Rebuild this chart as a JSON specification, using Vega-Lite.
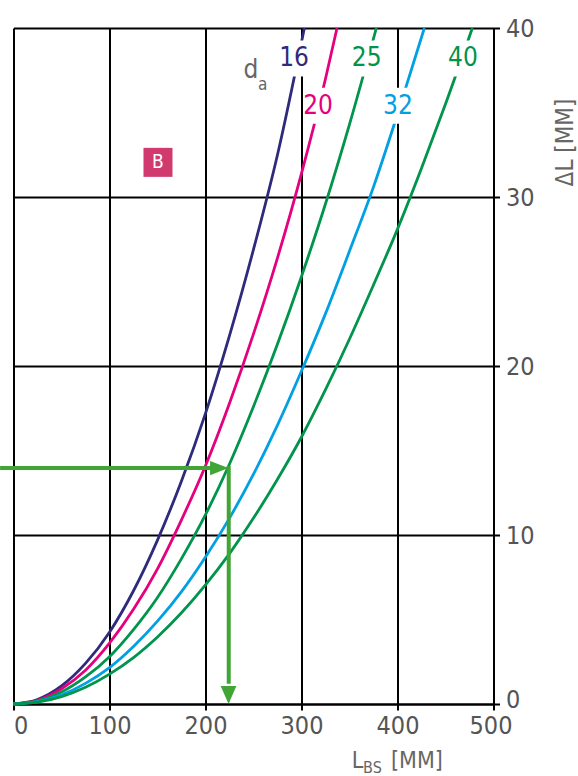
{
  "$schema": "https://vega.github.io/schema/vega-lite/v6.json",
  "autosize": {"type": "none"},
  "width": 480,
  "height": 676,
  "padding": {"left": 13.5, "top": 28, "right": 84.5, "bottom": 72},
  "config": {
    "view": {"stroke": null},
    "font": "Liberation Sans Narrow, DejaVu Sans Condensed, Roboto, sans-serif",
    "axis": {
      "grid": true, "gridColor": "#000000", "gridWidth": 2, "gridOpacity": 1,
      "domainColor": "#000000", "domainWidth": 2,
      "tickColor": "#000000", "tickWidth": 2, "tickSize": 6,
      "labelColor": "#555555", "labelFontSize": 25,
      "titleColor": "#666666", "titleFontWeight": "normal"
    }
  },
  "datasets": {
    "curves": [
      {"d": "16", "L": 0, "dL": 0}, {"d": "16", "L": 25, "dL": 0.27}, {"d": "16", "L": 50, "dL": 1.07}, {"d": "16", "L": 75, "dL": 2.4}, {"d": "16", "L": 100, "dL": 4.25}, {"d": "16", "L": 125, "dL": 6.7}, {"d": "16", "L": 150, "dL": 9.7}, {"d": "16", "L": 175, "dL": 13.2}, {"d": "16", "L": 200, "dL": 17.2}, {"d": "16", "L": 225, "dL": 21.8}, {"d": "16", "L": 250, "dL": 26.9}, {"d": "16", "L": 275, "dL": 32.5}, {"d": "16", "L": 303, "dL": 40},
      {"d": "20", "L": 0, "dL": 0}, {"d": "20", "L": 25, "dL": 0.22}, {"d": "20", "L": 50, "dL": 0.9}, {"d": "20", "L": 75, "dL": 2.0}, {"d": "20", "L": 100, "dL": 3.6}, {"d": "20", "L": 125, "dL": 5.6}, {"d": "20", "L": 150, "dL": 8.0}, {"d": "20", "L": 175, "dL": 10.9}, {"d": "20", "L": 200, "dL": 14.1}, {"d": "20", "L": 225, "dL": 17.8}, {"d": "20", "L": 250, "dL": 21.9}, {"d": "20", "L": 275, "dL": 26.4}, {"d": "20", "L": 300, "dL": 31.4}, {"d": "20", "L": 325, "dL": 37.0}, {"d": "20", "L": 337, "dL": 40},
      {"d": "25", "L": 0, "dL": 0}, {"d": "25", "L": 25, "dL": 0.18}, {"d": "25", "L": 50, "dL": 0.71}, {"d": "25", "L": 75, "dL": 1.6}, {"d": "25", "L": 100, "dL": 2.8}, {"d": "25", "L": 125, "dL": 4.4}, {"d": "25", "L": 150, "dL": 6.3}, {"d": "25", "L": 175, "dL": 8.6}, {"d": "25", "L": 200, "dL": 11.2}, {"d": "25", "L": 225, "dL": 14.2}, {"d": "25", "L": 250, "dL": 17.6}, {"d": "25", "L": 275, "dL": 21.3}, {"d": "25", "L": 300, "dL": 25.3}, {"d": "25", "L": 325, "dL": 29.6}, {"d": "25", "L": 350, "dL": 34.3}, {"d": "25", "L": 378, "dL": 40},
      {"d": "32", "L": 0, "dL": 0}, {"d": "32", "L": 25, "dL": 0.14}, {"d": "32", "L": 50, "dL": 0.54}, {"d": "32", "L": 75, "dL": 1.22}, {"d": "32", "L": 100, "dL": 2.15}, {"d": "32", "L": 125, "dL": 3.4}, {"d": "32", "L": 150, "dL": 4.9}, {"d": "32", "L": 175, "dL": 6.65}, {"d": "32", "L": 200, "dL": 8.7}, {"d": "32", "L": 225, "dL": 11.0}, {"d": "32", "L": 250, "dL": 13.6}, {"d": "32", "L": 275, "dL": 16.5}, {"d": "32", "L": 300, "dL": 19.7}, {"d": "32", "L": 325, "dL": 23.1}, {"d": "32", "L": 350, "dL": 26.8}, {"d": "32", "L": 375, "dL": 30.6}, {"d": "32", "L": 400, "dL": 34.9}, {"d": "32", "L": 428, "dL": 40},
      {"d": "40", "L": 0, "dL": 0}, {"d": "40", "L": 25, "dL": 0.11}, {"d": "40", "L": 50, "dL": 0.44}, {"d": "40", "L": 75, "dL": 0.99}, {"d": "40", "L": 100, "dL": 1.77}, {"d": "40", "L": 125, "dL": 2.75}, {"d": "40", "L": 150, "dL": 3.97}, {"d": "40", "L": 175, "dL": 5.4}, {"d": "40", "L": 200, "dL": 7.05}, {"d": "40", "L": 225, "dL": 8.9}, {"d": "40", "L": 250, "dL": 11.0}, {"d": "40", "L": 275, "dL": 13.3}, {"d": "40", "L": 300, "dL": 15.8}, {"d": "40", "L": 325, "dL": 18.6}, {"d": "40", "L": 350, "dL": 21.6}, {"d": "40", "L": 375, "dL": 24.8}, {"d": "40", "L": 400, "dL": 28.1}, {"d": "40", "L": 425, "dL": 31.7}, {"d": "40", "L": 450, "dL": 35.5}, {"d": "40", "L": 478, "dL": 40}
    ],
    "labels": [
      {"d": "16", "L": 292.2, "dL": 38.2},
      {"d": "20", "L": 317.2, "dL": 35.4},
      {"d": "25", "L": 367.9, "dL": 38.2},
      {"d": "32", "L": 400.5, "dL": 35.4},
      {"d": "40", "L": 468.2, "dL": 38.2}
    ],
    "arrow": [
      {"seg": "h", "L": -14, "dL": 13.96},
      {"seg": "h", "L": 207, "dL": 13.96},
      {"seg": "v", "L": 224.2, "dL": 14.08},
      {"seg": "v", "L": 224.2, "dL": 1.2}
    ]
  },
  "layer": [
    {
      "data": {"name": "curves"},
      "mark": {"type": "line", "strokeWidth": 2.8, "interpolate": "monotone"},
      "encoding": {
        "x": {"field": "L", "type": "quantitative", "scale": {"domain": [0, 500], "nice": false},
          "axis": {"values": [0, 100, 200, 300, 400, 500], "title": null, "labelBaseline": "top", "labelPadding": 3,
            "labelAlign": {"expr": "datum.value === 0 ? 'left' : 'center'"},
            "labelOffset": {"expr": "datum.value === 500 ? -3 : 0"}}},
        "y": {"field": "dL", "type": "quantitative", "scale": {"domain": [0, 40], "nice": false},
          "axis": {"orient": "right", "values": [0, 10, 20, 30, 40], "title": "ΔL [ММ]", "titleFontSize": 24,
            "titleAngle": 270, "titleX": 72, "titleY": 114, "titleAlign": "center", "titleBaseline": "middle",
            "labelPadding": 6, "labelBaseline": "middle",
            "labelOffset": {"expr": "datum.value === 0 ? -5 : 0"}}},
        "color": {"field": "d", "type": "nominal", "legend": null,
          "scale": {"domain": ["16", "20", "25", "32", "40"], "range": ["#2e2a7c", "#e5007e", "#00944c", "#00a0e3", "#00944c"]}},
        "detail": {"field": "d"}
      }
    },
    {
      "data": {"name": "labels"},
      "mark": {"type": "point", "shape": "M-0.83,-1L0.83,-1L0.83,1L-0.83,1Z", "filled": true, "color": "#ffffff", "opacity": 1, "size": 1296, "strokeWidth": 0},
      "encoding": {
        "x": {"field": "L", "type": "quantitative"},
        "y": {"field": "dL", "type": "quantitative"}
      }
    },
    {
      "data": {"name": "labels"},
      "mark": {"type": "text", "fontSize": 26, "align": "center", "baseline": "middle"},
      "encoding": {
        "x": {"field": "L", "type": "quantitative"},
        "y": {"field": "dL", "type": "quantitative"},
        "text": {"field": "d"},
        "color": {"field": "d", "type": "nominal", "legend": null}
      }
    },
    {
      "data": {"values": [{"t": "d", "L": 247.2, "dL": 37.5}]},
      "mark": {"type": "text", "fontSize": 26, "align": "center", "baseline": "middle", "color": "#666666"},
      "encoding": {
        "x": {"field": "L", "type": "quantitative"},
        "y": {"field": "dL", "type": "quantitative"},
        "text": {"field": "t"}
      }
    },
    {
      "data": {"values": [{"t": "a", "L": 259.6, "dL": 36.6}]},
      "mark": {"type": "text", "fontSize": 17, "align": "center", "baseline": "middle", "color": "#666666"},
      "encoding": {
        "x": {"field": "L", "type": "quantitative"},
        "y": {"field": "dL", "type": "quantitative"},
        "text": {"field": "t"}
      }
    },
    {
      "data": {"name": "arrow"},
      "mark": {"type": "line", "color": "#40a535", "strokeWidth": 4, "strokeCap": "butt"},
      "encoding": {
        "x": {"field": "L", "type": "quantitative"},
        "y": {"field": "dL", "type": "quantitative"},
        "detail": {"field": "seg"}
      }
    },
    {
      "data": {"values": [{"L": 214.3, "dL": 13.96}]},
      "mark": {"type": "point", "shape": "M-1,-0.78L1,0L-1,0.78Z", "filled": true, "color": "#40a535", "opacity": 1, "size": 335, "strokeWidth": 0},
      "encoding": {
        "x": {"field": "L", "type": "quantitative"},
        "y": {"field": "dL", "type": "quantitative"}
      }
    },
    {
      "data": {"values": [{"L": 224, "dL": 0.53}]},
      "mark": {"type": "point", "shape": "M-0.87,-1L0.87,-1L0,1Z", "filled": true, "color": "#40a535", "opacity": 1, "size": 324, "strokeWidth": 0},
      "encoding": {
        "x": {"field": "L", "type": "quantitative"},
        "y": {"field": "dL", "type": "quantitative"}
      }
    },
    {
      "data": {"values": [{"t": "B", "L": 150.5, "dL": 32.05}]},
      "mark": {"type": "point", "shape": "M-1,-1L1,-1L1,1L-1,1Z", "filled": true, "color": "#d03a6e", "opacity": 1, "size": 841, "strokeWidth": 0},
      "encoding": {
        "x": {"field": "L", "type": "quantitative"},
        "y": {"field": "dL", "type": "quantitative"}
      }
    },
    {
      "data": {"values": [{"t": "B", "L": 150.5, "dL": 32.05}]},
      "mark": {"type": "text", "fontSize": 19, "align": "center", "baseline": "middle", "color": "#ffffff"},
      "encoding": {
        "x": {"field": "L", "type": "quantitative"},
        "y": {"field": "dL", "type": "quantitative"},
        "text": {"field": "t"}
      }
    },
    {
      "data": {"values": [{"t": "L", "L": 352.3, "dL": -3.79}, {"t": "[ММ]", "L": 393.2, "dL": -3.79}]},
      "mark": {"type": "text", "fontSize": 23, "align": "left", "baseline": "alphabetic", "color": "#666666"},
      "encoding": {
        "x": {"field": "L", "type": "quantitative"},
        "y": {"field": "dL", "type": "quantitative"},
        "text": {"field": "t"}
      }
    },
    {
      "data": {"values": [{"t": "BS", "L": 364.1, "dL": -4.08}]},
      "mark": {"type": "text", "fontSize": 16, "align": "left", "baseline": "alphabetic", "color": "#666666"},
      "encoding": {
        "x": {"field": "L", "type": "quantitative"},
        "y": {"field": "dL", "type": "quantitative"},
        "text": {"field": "t"}
      }
    }
  ]
}
